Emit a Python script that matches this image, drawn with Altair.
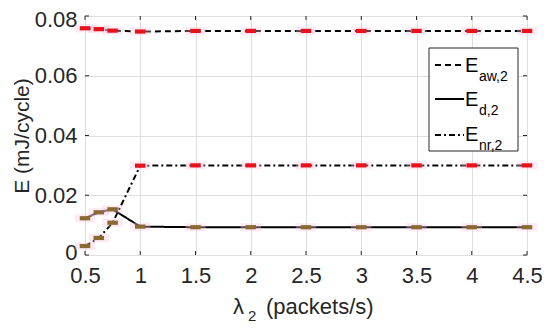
import altair as alt
import pandas as pd

x_vals = [0.5, 0.625, 0.75, 1, 1.5, 2, 2.5, 3, 3.5, 4, 4.5]
e_aw = [0.0759, 0.0756, 0.0751, 0.0748, 0.0750, 0.0750, 0.0750, 0.0750, 0.0750, 0.0750, 0.0750]
e_d = [0.0123, 0.0143, 0.0153, 0.0095, 0.0093, 0.0093, 0.0093, 0.0093, 0.0093, 0.0093, 0.0093]
e_nr = [0.0030, 0.0057, 0.0108, 0.0299, 0.0300, 0.0300, 0.0300, 0.0300, 0.0300, 0.0300, 0.0300]
aw_marker = ["r"] * 11
d_marker = ["b"] * 11
nr_marker = ["b", "b", "b"] + ["r"] * 8

x_ticks = [0.5, 1, 1.5, 2, 2.5, 3, 3.5, 4, 4.5]
y_ticks = [0, 0.02, 0.04, 0.06, 0.08]
legend_subs = ["aw,2", "d,2", "nr,2"]
x_title = ["λ", "2", "(packets/s)"]

W, H = 442, 239
FONT = "Liberation Sans"
TXT = "#262626"

rows = []
for name, ys, ms in [("aw", e_aw, aw_marker), ("d", e_d, d_marker), ("nr", e_nr, nr_marker)]:
    for xv, yv, m in zip(x_vals, ys, ms):
        rows.append({"series": name, "x": xv, "y": yv, "m": m})
df = pd.DataFrame(rows)

xs = alt.Scale(domain=[0.5, 4.5], nice=False, zero=False, padding=0)
ys_ = alt.Scale(domain=[0, 0.08], nice=False, padding=0)

xenc = alt.X("x:Q", scale=xs, axis=alt.Axis(
    values=x_ticks, labelExpr="format(datum.value, '~g')", title=None,
    grid=True, gridColor="#dedede", ticks=False, domain=False, labelFlush=False,
    labelFont=FONT, labelFontSize=22, labelColor=TXT, labelPadding=10))
yenc = alt.Y("y:Q", scale=ys_, axis=alt.Axis(
    values=y_ticks, labelExpr="datum.value == 0 ? '0' : format(datum.value, '.2f')",
    title="E (mJ/cycle)", grid=True, gridColor="#dedede", ticks=False, domain=False,
    labelFlush=False,
    labelOffset={"condition": [{"test": "datum.value > 0.079", "value": 3},
                               {"test": "datum.value < 0.001", "value": -3}], "value": 0},
    labelFont=FONT, labelFontSize=22, labelColor=TXT, labelPadding=8,
    titleFont=FONT, titleFontSize=21, titleFontWeight="normal", titleColor=TXT, titlePadding=2))

base = alt.Chart(df)
dashes = {"aw": [6, 4], "d": [1, 0], "nr": [6, 3, 2, 3]}
layers = []
for name in ["aw", "d", "nr"]:
    layers.append(base.transform_filter(alt.datum.series == name).mark_line(
        color="black", strokeWidth=2, strokeDash=dashes[name]).encode(x=xenc, y=yenc))

rect_path = "M-1,-0.4L1,-0.4L1,0.4L-1,0.4Z"
halo = base.mark_point(shape=rect_path, filled=True, color="#f7c4e2", opacity=0.35, size=420).encode(
    x=alt.X("x:Q", scale=xs), y=alt.Y("y:Q", scale=ys_))
marks = base.mark_point(shape=rect_path, filled=True, opacity=1, size=110).encode(
    x=alt.X("x:Q", scale=xs), y=alt.Y("y:Q", scale=ys_),
    color=alt.Color("m:N", scale=alt.Scale(domain=["r", "b"], range=["#e8121c", "#8a6a30"]), legend=None))

# inward ticks
xt = pd.DataFrame({"x": x_ticks})
yt = pd.DataFrame({"y": y_ticks})
tick_layers = [
    alt.Chart(xt).mark_rule(color=TXT).encode(x=alt.X("x:Q", scale=xs), y=alt.value(H), y2=alt.value(H - 4)),
    alt.Chart(xt).mark_rule(color=TXT).encode(x=alt.X("x:Q", scale=xs), y=alt.value(0), y2=alt.value(4)),
    alt.Chart(yt).mark_rule(color=TXT).encode(y=alt.Y("y:Q", scale=ys_), x=alt.value(0), x2=alt.value(4)),
    alt.Chart(yt).mark_rule(color=TXT).encode(y=alt.Y("y:Q", scale=ys_), x=alt.value(W), x2=alt.value(W - 4)),
]

# x-axis title with subscript
tdf = pd.DataFrame({"a": x_title[0], "b": x_title[1], "c": x_title[2]}, index=[0])
xtitle = [
    alt.Chart(tdf).mark_text(font=FONT, fontSize=22, color=TXT, align="left", baseline="alphabetic").encode(
        x=alt.value(148), y=alt.value(298), text="a:N"),
    alt.Chart(tdf).mark_text(font=FONT, fontSize=15, color=TXT, align="left", baseline="alphabetic").encode(
        x=alt.value(163), y=alt.value(305), text="b:N"),
    alt.Chart(tdf).mark_text(font=FONT, fontSize=22, color=TXT, align="left", baseline="alphabetic").encode(
        x=alt.value(181), y=alt.value(298), text="c:N"),
]

# legend
leg = []
leg.append(alt.Chart(pd.DataFrame({"a": [0]})).mark_rect(fill="white", stroke=TXT, strokeWidth=1).encode(
    x=alt.value(344), x2=alt.value(433), y=alt.value(32), y2=alt.value(135)))
line_y = [49, 83, 119]
e_base = [56, 90, 125]
for i, (name, sub) in enumerate(zip(["aw", "d", "nr"], legend_subs)):
    one = pd.DataFrame({"t": ["E"], "s": [sub]})
    leg.append(alt.Chart(one).mark_rule(color="black", strokeWidth=2, strokeDash=dashes[name]).encode(
        x=alt.value(350), x2=alt.value(379), y=alt.value(line_y[i])))
    leg.append(alt.Chart(one).mark_text(font=FONT, fontSize=20, color="black", align="left", baseline="alphabetic").encode(
        x=alt.value(380), y=alt.value(e_base[i]), text="t:N"))
    leg.append(alt.Chart(one).mark_text(font=FONT, fontSize=14, color="black", align="left", baseline="alphabetic").encode(
        x=alt.value(394), y=alt.value(e_base[i] + 9), text="s:N"))

chart = alt.layer(*layers, halo, marks, *tick_layers, *xtitle, *leg).properties(
    width=W, height=H,
    autosize=alt.AutoSizeParams(type="none"),
    padding={"left": 77, "top": 8, "right": 15, "bottom": 68},
).configure_view(stroke=TXT, strokeWidth=1).configure(background="white")

chart.save("out.html", embed_options={"renderer": "svg", "actions": False})
